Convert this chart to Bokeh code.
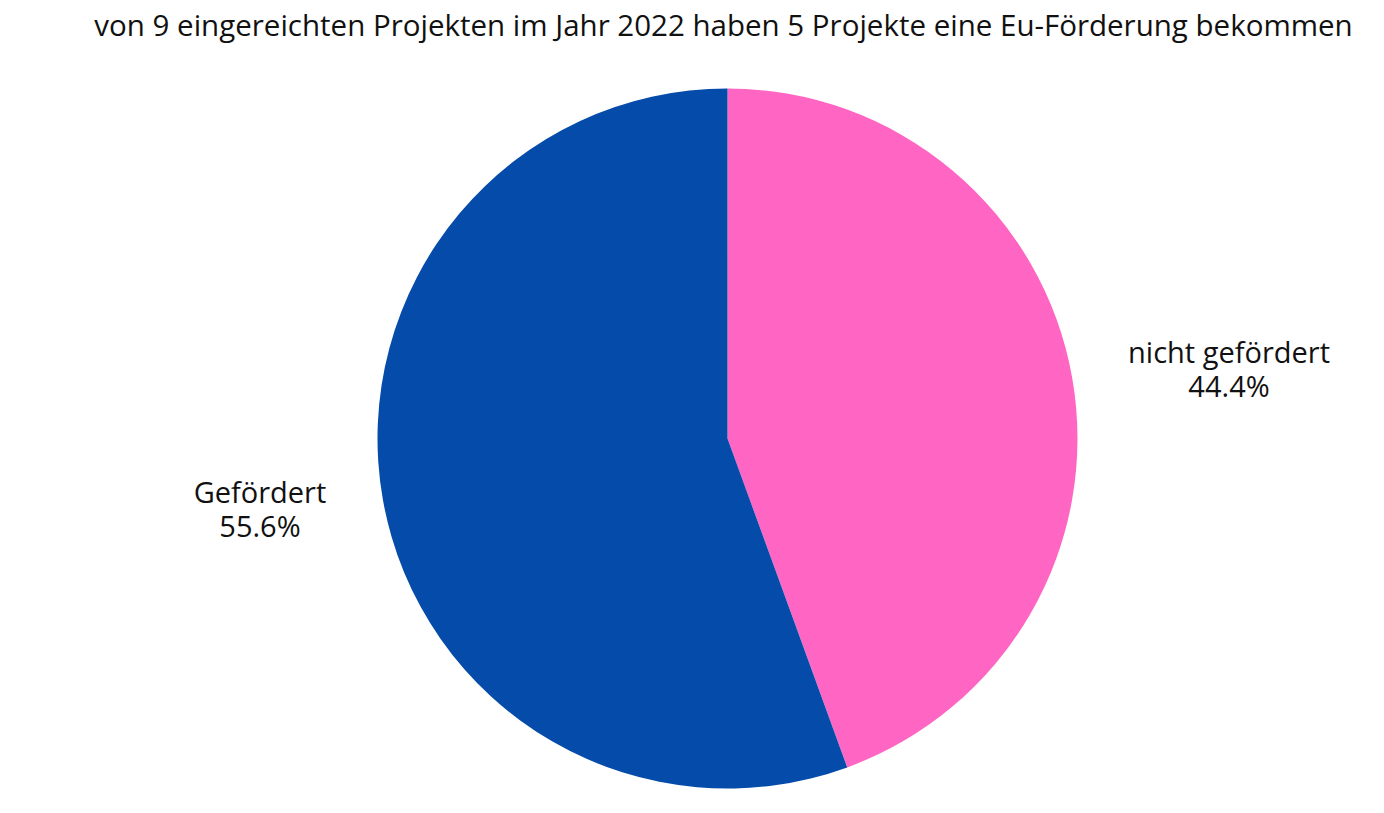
import math
from bokeh.plotting import figure
from bokeh.models import Range1d, ColumnDataSource
from bokeh.core.properties import value
from bokeh.embed import file_html
from bokeh.resources import INLINE

title = "von 9 eingereichten Projekten im Jahr 2022 haben 5 Projekte eine Eu-Förderung bekommen"
categories = ["nicht gefördert", "Gefördert"]
counts = [4, 5]
colors = ["#FF66C4", "#054BAA"]

W, H = 1368, 797
CX, CY = 727, 438  # pie centre in frame pixels (from top-left)
R = 350
LABEL_R = 492
LABEL_YSCALE = 0.82
FONT = "Open Sans"

total = sum(counts)
starts, ends, mids, pcts = [], [], [], []
a = math.pi / 2
for c in counts:
    span = 2 * math.pi * c / total
    starts.append(a)
    ends.append(a - span)
    mids.append(a - span / 2)
    pcts.append(f"{100 * c / total:.1f}%")
    a -= span

src = ColumnDataSource(dict(
    start=starts, end=ends, color=colors, name=categories, pct=pcts,
    lx=[LABEL_R * math.cos(m) for m in mids],
    ly=[LABEL_R * LABEL_YSCALE * math.sin(m) for m in mids],
))

p = figure(width=W, height=H, output_backend="svg", toolbar_location=None,
           x_range=Range1d(-CX, W - CX), y_range=Range1d(-(H - CY), CY),
           min_border=0, outline_line_color=None)
p.axis.visible = False
p.grid.visible = False
p.background_fill_color = "white"
p.border_fill_color = "white"

p.wedge(x=0, y=0, radius=R, start_angle="start", end_angle="end",
        direction="clock", fill_color="color", line_color=None, source=src)

p.text(x="lx", y="ly", text="name", source=src, text_align="center",
       text_baseline="middle", x_offset=17, y_offset=-17, text_font=value(FONT),
       text_font_size="29px", text_color="#111111")
p.text(x="lx", y="ly", text="pct", source=src, text_align="center",
       text_baseline="middle", x_offset=17, y_offset=17, text_font=value(FONT),
       text_font_size="29px", text_color="#111111")

p.text(x=[-4], y=[CY - 24], text=[title], text_align="center",
       text_baseline="middle", text_font=value(FONT), text_font_size="29.5px",
       text_color="#111111")

open("out.html", "w").write(file_html(p, INLINE))
